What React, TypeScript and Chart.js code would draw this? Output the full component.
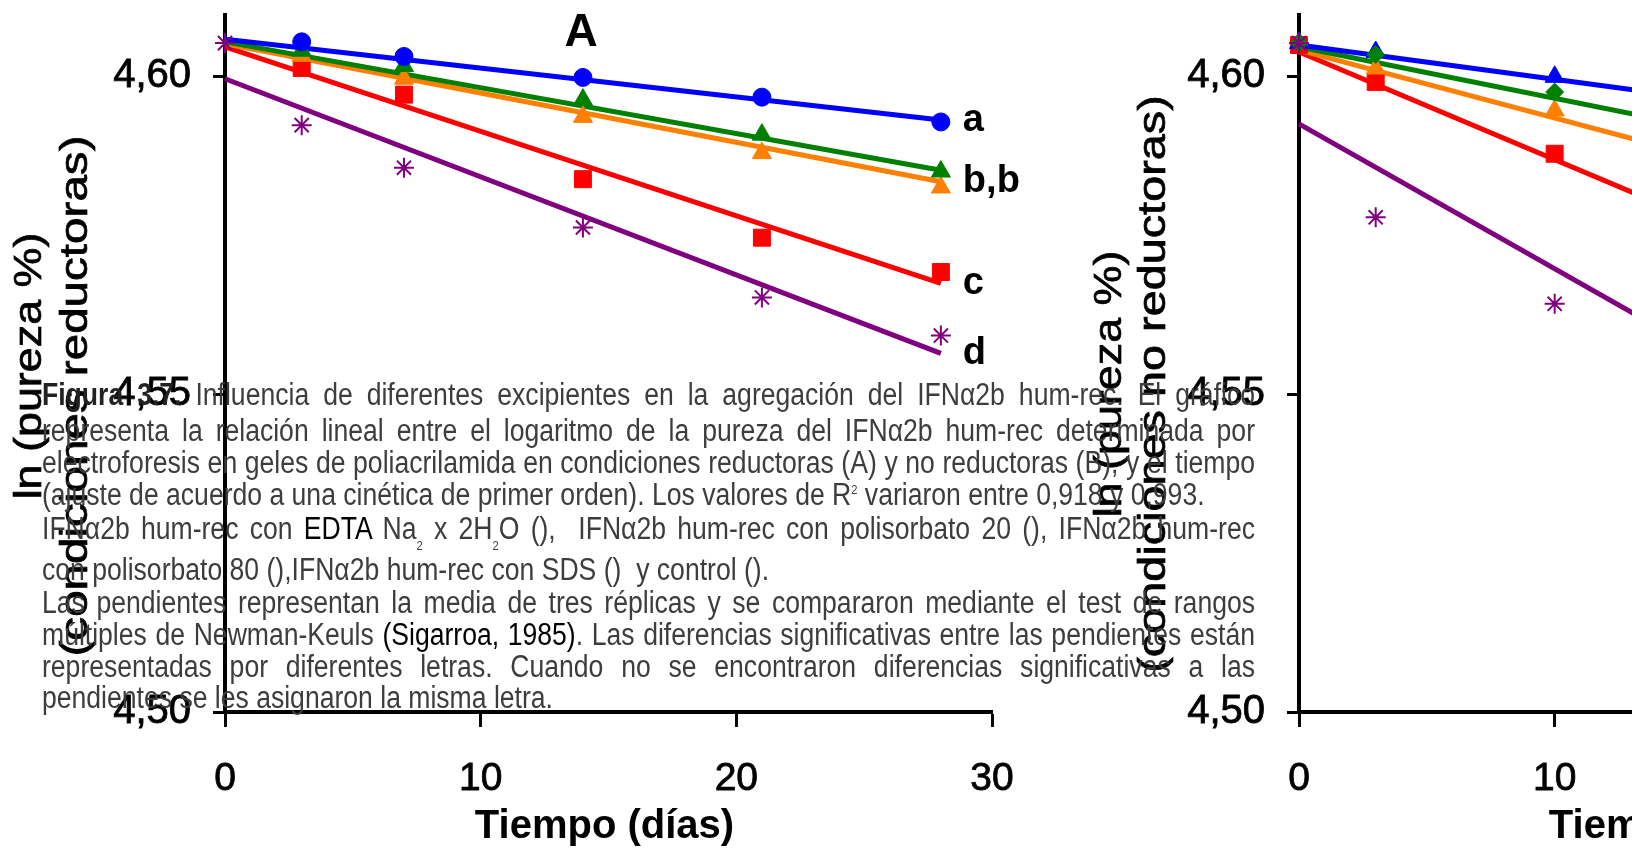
import React, { useEffect, useRef } from "react";
import { Chart, registerables } from "chart.js";

Chart.register(...registerables);

// ---------- Panel A: condiciones reductoras ----------
const daysA = [3, 7, 14, 21, 28];
const daysAControl = [0, 3, 7, 14, 21, 28];
const edtaA = [4.6054, 4.6031, 4.5998, 4.5967, 4.5928];
const ps20A = [4.604, 4.6016, 4.5963, 4.5908, 4.585];
const ps80A = [4.6032, 4.5996, 4.5936, 4.5879, 4.5825];
const sdsA = [4.6013, 4.5971, 4.5838, 4.5746, 4.5692];
const controlA = [4.6052, 4.5923, 4.5856, 4.5762, 4.5652, 4.5592];

// fitted first-order lines: value at day 0 and day 28
const fitDays = [0, 28];
const edtaFitA = [4.6058, 4.5931];
const ps20FitA = [4.6054, 4.5852];
const ps80FitA = [4.6051, 4.5834];
const sdsFitA = [4.6046, 4.5674];
const controlFitA = [4.5996, 4.5564];

// significance letters at the end of the lines
const lettersA = ["a", "b,b", "c", "d"];
const letterAnchorsA = [edtaFitA[1], ps80FitA[1], sdsFitA[1], controlFitA[1]];

// ---------- Panel B: condiciones no reductoras ----------
const daysB = [0, 3, 10];
const edtaB = [4.6052, 4.6038, 4.5999];
const ps20B = [4.6052, 4.6034, 4.5975];
const ps80B = [4.6052, 4.6012, 4.5946];
const sdsB = [4.6049, 4.5991, 4.5878];
const controlB = [4.6052, 4.5778, 4.5642];

const edtaFitB = [4.6049, 4.5898];
const ps20FitB = [4.6046, 4.582];
const ps80FitB = [4.6041, 4.5742];
const sdsFitB = [4.6038, 4.5564];
const controlFitB = [4.5925, 4.5287];

// ---------- axes ----------
const xTicks = [0, 10, 20, 30];
const yTicks = [4.5, 4.55, 4.6];
const yMin = 4.5;
const yMax = 4.6097;
const xMin = 0;
const xMax = 30;

const BLUE = "#0000ff";
const GREEN = "#008000";
const ORANGE = "#ff7f00";
const RED = "#ff0000";
const PURPLE = "#800080";

const FONT = '"Liberation Sans", Arial, Helvetica, sans-serif';

const CANVAS_W = 1100;
const CANVAS_H = 848;
const AREA_LEFT = 225;
const AREA_RIGHT = 992;
const AREA_TOP = 14.5;
const AREA_BOTTOM = 712;

type XY = { x: number; y: number };
const pts = (xs: number[], ys: number[]): XY[] => xs.map((x, i) => ({ x, y: ys[i] }));

function markers(xs: number[], ys: number[], color: string, style: string, radius: number, bw = 1) {
  return {
    type: "line" as const,
    data: pts(xs, ys),
    showLine: false,
    pointStyle: style,
    pointRadius: radius,
    pointBackgroundColor: color,
    pointBorderColor: color,
    pointBorderWidth: bw,
    clip: false as any,
  };
}

function fitLine(ys: number[], color: string) {
  return {
    type: "line" as const,
    data: pts(fitDays, ys),
    borderColor: color,
    borderWidth: 5,
    pointRadius: 0,
    fill: false,
    tension: 0,
    clip: false as any,
  };
}

function drawText(
  ctx: CanvasRenderingContext2D,
  text: string,
  cx: number,
  cy: number,
  font: string,
  stretch: number,
  vertical: boolean,
  stroke = 0
) {
  ctx.save();
  ctx.translate(cx, cy);
  if (vertical) ctx.rotate(-Math.PI / 2);
  ctx.scale(stretch, 1);
  ctx.font = font;
  ctx.textAlign = "center";
  ctx.textBaseline = "middle";
  ctx.fillStyle = "#000";
  ctx.fillText(text, 0, 0);
  if (stroke > 0) {
    ctx.strokeStyle = "#000";
    ctx.lineWidth = stroke;
    ctx.strokeText(text, 0, 0);
  }
  ctx.restore();
}

// draws the panel letter, axis titles and significance letters
const panelText = {
  id: "panelText",
  afterDraw(chart: any, _args: any, opts: any) {
    const { ctx, scales } = chart;
    const xs = scales.x;
    const ys = scales.y;
    if (opts.title) {
      drawText(ctx, opts.title, 581, 33, `bold 46px ${FONT}`, 1, false);
    }
    for (const l of opts.yLines || []) {
      drawText(ctx, l.text, l.x, l.y, `39px ${FONT}`, l.stretch, true, 0.7);
    }
    const midX = (xs.getPixelForValue(xMin) + xs.getPixelForValue(xMax)) / 2;
    drawText(ctx, "Tiempo (días)", midX - 4, 827, `bold 40px ${FONT}`, 1, false);
    const letters: string[] = opts.letters || [];
    const anchors: number[] = opts.anchors || [];
    ctx.save();
    ctx.font = `bold 38px ${FONT}`;
    ctx.textAlign = "left";
    ctx.textBaseline = "middle";
    ctx.fillStyle = "#000";
    letters.forEach((t, i) => {
      ctx.fillText(t, xs.getPixelForValue(28) + 22, ys.getPixelForValue(anchors[i]));
    });
    ctx.restore();
  },
};

function makeConfig(datasets: any[], plugin: any): any {
  return {
    type: "line",
    data: { datasets },
    plugins: [panelText],
    options: {
      responsive: false,
      animation: false,
      devicePixelRatio: 1,
      layout: { padding: { left: 0, top: AREA_TOP, right: CANVAS_W - AREA_RIGHT, bottom: 0 } },
      plugins: {
        legend: { display: false },
        tooltip: { enabled: false },
        panelText: plugin,
      },
      scales: {
        x: {
          type: "linear",
          min: xMin,
          max: xMax,
          afterBuildTicks: (s: any) => {
            s.ticks = xTicks.map((value) => ({ value }));
          },
          afterFit: (s: any) => {
            s.height = CANVAS_H - AREA_BOTTOM;
            s.paddingLeft = 0;
            s.paddingRight = 0;
          },
          ticks: {
            maxRotation: 0,
            autoSkip: false,
            padding: 33,
            color: "#000",
            textStrokeColor: "#000",
            textStrokeWidth: 0.8,
            font: { family: FONT, size: 39, lineHeight: 1 },
            callback: (v: any) => String(v),
          },
          grid: { drawOnChartArea: false, drawTicks: true, tickLength: 15, tickWidth: 3, tickColor: "#000" },
          border: { display: true, color: "#000", width: 4 },
        },
        y: {
          type: "linear",
          min: yMin,
          max: yMax,
          afterBuildTicks: (s: any) => {
            s.ticks = yTicks.map((value) => ({ value }));
          },
          afterFit: (s: any) => {
            s.width = AREA_LEFT;
            s.paddingTop = 0;
            s.paddingBottom = 0;
          },
          ticks: {
            padding: 22,
            color: "#000",
            textStrokeColor: "#000",
            textStrokeWidth: 0.8,
            font: { family: FONT, size: 40, lineHeight: 1 },
            callback: (v: any) => Number(v).toFixed(2).replace(".", ","),
          },
          grid: { drawOnChartArea: false, drawTicks: true, tickLength: 12, tickWidth: 3, tickColor: "#000" },
          border: { display: true, color: "#000", width: 4 },
        },
      },
    },
  };
}

const datasetsA = [
  markers(daysAControl, controlA, PURPLE, "star", 10, 2),
  markers(daysA, edtaA, BLUE, "circle", 9),
  markers(daysA, ps20A, GREEN, "triangle", 11),
  markers(daysA, ps80A, ORANGE, "triangle", 11),
  markers(daysA, sdsA, RED, "rect", 12),
  fitLine(edtaFitA, BLUE),
  fitLine(ps20FitA, GREEN),
  fitLine(ps80FitA, ORANGE),
  fitLine(sdsFitA, RED),
  fitLine(controlFitA, PURPLE),
];

const datasetsB = [
  markers(daysB, controlB, PURPLE, "star", 10, 2),
  markers(daysB, ps20B, GREEN, "rectRot", 9),
  markers(daysB, edtaB, BLUE, "triangle", 11),
  markers(daysB, ps80B, ORANGE, "triangle", 11),
  markers(daysB, sdsB, RED, "rect", 12),
  fitLine(edtaFitB, BLUE),
  fitLine(ps20FitB, GREEN),
  fitLine(ps80FitB, ORANGE),
  fitLine(sdsFitB, RED),
  fitLine(controlFitB, PURPLE),
];

const panelAText = {
  title: "A",
  yLines: [
    { text: "ln (pureza %)", x: 30, y: 366, stretch: 1.15 },
    { text: "(condiciones reductoras)", x: 76, y: 396, stretch: 1.22 },
  ],
  letters: lettersA,
  anchors: letterAnchorsA,
};

const panelBText = {
  title: "B",
  yLines: [
    { text: "ln (pureza %)", x: 36, y: 384, stretch: 1.15 },
    { text: "(condiciones no reductoras)", x: 80, y: 384, stretch: 1.2 },
  ],
  letters: [],
  anchors: [],
};

function Panel({ left, datasets, text }: { left: number; datasets: any[]; text: any }) {
  const ref = useRef<HTMLCanvasElement>(null);
  useEffect(() => {
    if (!ref.current) return;
    const chart = new Chart(ref.current, makeConfig(datasets, text));
    return () => chart.destroy();
  }, []);
  return (
    <canvas
      ref={ref}
      width={CANVAS_W}
      height={CANVAS_H}
      style={{ position: "absolute", left, top: 0, width: CANVAS_W, height: CANVAS_H }}
    />
  );
}

// ---------- caption ----------
const CAP_SIZE = 31;
const CAP_SCALE = 0.857;
const CAP_LEFT = 42;
const CAP_WIDTH = 1213;
const CAP_ASCENT = 26.25;

function CapLine({ baseline, justify, children }: { baseline: number; justify: boolean; children: any }) {
  return (
    <div
      style={{
        position: "absolute",
        left: CAP_LEFT,
        top: baseline - CAP_ASCENT,
        width: CAP_WIDTH / CAP_SCALE,
        transform: `scaleX(${CAP_SCALE})`,
        transformOrigin: "0 0",
        fontFamily: FONT,
        fontSize: CAP_SIZE,
        lineHeight: `${CAP_SIZE}px`,
        color: "#3d3d3d",
        textAlign: justify ? "justify" : "left",
        textAlignLast: justify ? "justify" : "left",
      }}
    >
      {children}
    </div>
  );
}

const sub = (t: string) => (
  <span style={{ position: "relative", top: 11, fontSize: 13 }}>{t}</span>
);

function Caption() {
  return (
    <>
      <CapLine baseline={405} justify>
        <b style={{ color: "#222" }}>Figura 3.7.</b> Influencia de diferentes excipientes en la agregación del IFNα2b hum-rec. El gráfico
      </CapLine>
      <CapLine baseline={441} justify>
        representa la relación lineal entre el logaritmo de la pureza del IFNα2b hum-rec determinada por
      </CapLine>
      <CapLine baseline={473} justify>
        electroforesis en geles de poliacrilamida en condiciones reductoras (A) y no reductoras (B), y el tiempo
      </CapLine>
      <CapLine baseline={505} justify={false}>
        (ajuste de acuerdo a una cinética de primer orden). Los valores de R
        <span style={{ position: "relative", top: -11, fontSize: 13 }}>2</span> variaron entre 0,918 y 0,993.
      </CapLine>
      <CapLine baseline={539} justify>
        IFNα2b hum-rec con <span style={{ color: "#000" }}>EDTA</span> Na{sub("2")} x 2H{sub("2")}O (),{"\u00a0"} IFNα2b hum-rec con polisorbato 20 (), IFNα2b hum-rec
      </CapLine>
      <CapLine baseline={580} justify={false}>
        con polisorbato 80 (),IFNα2b hum-rec con SDS (){"\u00a0"} y control ().
      </CapLine>
      <CapLine baseline={613} justify>
        Las pendientes representan la media de tres réplicas y se compararon mediante el test de rangos
      </CapLine>
      <CapLine baseline={645} justify>
        múltiples de Newman-Keuls <span style={{ color: "#000" }}>(Sigarroa, 1985)</span>. Las diferencias significativas entre las pendientes están
      </CapLine>
      <CapLine baseline={677} justify>
        representadas por diferentes letras. Cuando no se encontraron diferencias significativas a las
      </CapLine>
      <CapLine baseline={708} justify={false}>
        pendientes se les asignaron la misma letra.
      </CapLine>
    </>
  );
}

export default function App() {
  return (
    <div
      style={{
        position: "fixed",
        left: 0,
        top: 0,
        width: 1632,
        height: 848,
        overflow: "hidden",
        background: "#fff",
      }}
    >
      <Panel left={0} datasets={datasetsA} text={panelAText} />
      <Panel left={1074} datasets={datasetsB} text={panelBText} />
      <Caption />
    </div>
  );
}
